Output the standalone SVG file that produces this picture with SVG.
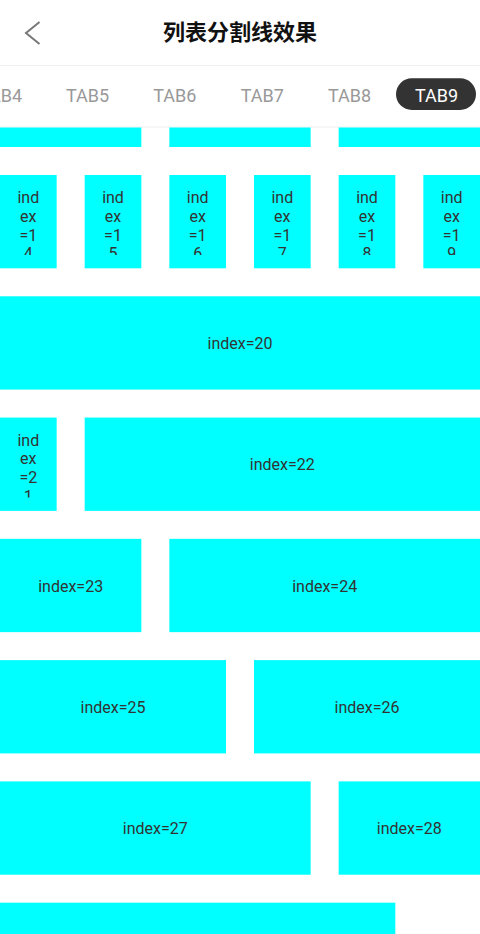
<svg xmlns="http://www.w3.org/2000/svg" width="480" height="934" viewBox="0 0 480 934">
<style>
.cell{fill:#00FFFF}
.t{font-family:Roboto,"Liberation Sans",sans-serif;font-size:16px;fill:#333;text-anchor:middle}
.tab{font-family:Roboto,"Liberation Sans",sans-serif;font-size:18px;fill:#999;text-anchor:middle}
</style>
<defs>
<clipPath id="c14" clipPathUnits="userSpaceOnUse"><rect x="0" y="175" width="480" height="80"/></clipPath>
<clipPath id="c21" clipPathUnits="userSpaceOnUse"><rect x="0" y="417.56" width="480" height="80"/></clipPath>
</defs>
<rect width="480" height="934" fill="#fff"/>
<g id="header">
<path d="M39.5 22 L26 33 L39.5 44" fill="none" stroke="#777" stroke-width="2"/>
<text x="240" y="40" font-family="'Noto Sans CJK SC',sans-serif" font-size="22" font-weight="bold" fill="#111" text-anchor="middle">列表分割线效果</text>
<line x1="0" y1="65.5" x2="480" y2="65.5" stroke="#eee" stroke-width="1"/>
</g>
<g id="tabs">
<text class="tab" x="0.5" y="101.5">TAB4</text>
<text class="tab" x="87.5" y="101.5">TAB5</text>
<text class="tab" x="174.7" y="101.5">TAB6</text>
<text class="tab" x="262.2" y="101.5">TAB7</text>
<text class="tab" x="349.5" y="101.5">TAB8</text>
<rect x="396" y="78.3" width="80" height="31.7" rx="15.8" fill="#333"/>
<text class="tab" x="436.5" y="101.5" style="fill:#fff">TAB9</text>
<line x1="0" y1="127" x2="480" y2="127" stroke="#eee" stroke-width="1"/>
</g>
<g id="row0">
<rect class="cell" x="0" y="127.5" width="141.33" height="19.5"/>
<rect class="cell" x="169.33" y="127.5" width="141.33" height="19.5"/>
<rect class="cell" x="338.67" y="127.5" width="141.33" height="19.5"/>
</g>
<g id="item14"><rect class="cell" x="0" y="175" width="56.67" height="93.3"/><g clip-path="url(#c14)"><text class="t" x="28.33" y="203">ind</text><text class="t" x="28.33" y="221.75">ex</text><text class="t" x="28.33" y="240.5">=1</text><text class="t" x="28.33" y="259.25">4</text></g></g>
<g id="item15"><rect class="cell" x="84.67" y="175" width="56.67" height="93.3"/><g clip-path="url(#c14)"><text class="t" x="113" y="203">ind</text><text class="t" x="113" y="221.75">ex</text><text class="t" x="113" y="240.5">=1</text><text class="t" x="113" y="259.25">5</text></g></g>
<g id="item16"><rect class="cell" x="169.33" y="175" width="56.67" height="93.3"/><g clip-path="url(#c14)"><text class="t" x="197.67" y="203">ind</text><text class="t" x="197.67" y="221.75">ex</text><text class="t" x="197.67" y="240.5">=1</text><text class="t" x="197.67" y="259.25">6</text></g></g>
<g id="item17"><rect class="cell" x="254" y="175" width="56.67" height="93.3"/><g clip-path="url(#c14)"><text class="t" x="282.33" y="203">ind</text><text class="t" x="282.33" y="221.75">ex</text><text class="t" x="282.33" y="240.5">=1</text><text class="t" x="282.33" y="259.25">7</text></g></g>
<g id="item18"><rect class="cell" x="338.67" y="175" width="56.67" height="93.3"/><g clip-path="url(#c14)"><text class="t" x="367" y="203">ind</text><text class="t" x="367" y="221.75">ex</text><text class="t" x="367" y="240.5">=1</text><text class="t" x="367" y="259.25">8</text></g></g>
<g id="item19"><rect class="cell" x="423.33" y="175" width="56.67" height="93.3"/><g clip-path="url(#c14)"><text class="t" x="451.67" y="203">ind</text><text class="t" x="451.67" y="221.75">ex</text><text class="t" x="451.67" y="240.5">=1</text><text class="t" x="451.67" y="259.25">9</text></g></g>
<g id="item20"><rect class="cell" x="0" y="296.28" width="480" height="93.3"/><text class="t" x="240" y="349">index=20</text></g>
<g id="item21"><rect class="cell" x="0" y="417.56" width="56.67" height="93.3"/><g clip-path="url(#c21)"><text class="t" x="28.33" y="445.6">ind</text><text class="t" x="28.33" y="464.35">ex</text><text class="t" x="28.33" y="483.1">=2</text><text class="t" x="28.33" y="501.85">1</text></g></g>
<g id="item22"><rect class="cell" x="84.67" y="417.56" width="395.33" height="93.3"/><text class="t" x="282.33" y="470.3">index=22</text></g>
<g id="item23"><rect class="cell" x="0" y="538.84" width="141.33" height="93.3"/><text class="t" x="70.67" y="591.6">index=23</text></g>
<g id="item24"><rect class="cell" x="169.33" y="538.84" width="310.67" height="93.3"/><text class="t" x="324.67" y="591.6">index=24</text></g>
<g id="item25"><rect class="cell" x="0" y="660.12" width="226" height="93.3"/><text class="t" x="113" y="712.9">index=25</text></g>
<g id="item26"><rect class="cell" x="254" y="660.12" width="226" height="93.3"/><text class="t" x="367" y="712.9">index=26</text></g>
<g id="item27"><rect class="cell" x="0" y="781.4" width="310.67" height="93.3"/><text class="t" x="155.33" y="834.2">index=27</text></g>
<g id="item28"><rect class="cell" x="338.67" y="781.4" width="141.33" height="93.3"/><text class="t" x="409.33" y="834.2">index=28</text></g>
<g id="item29"><rect class="cell" x="0" y="902.68" width="395.33" height="31.32"/></g>
<g id="connectors"/>
</svg>
